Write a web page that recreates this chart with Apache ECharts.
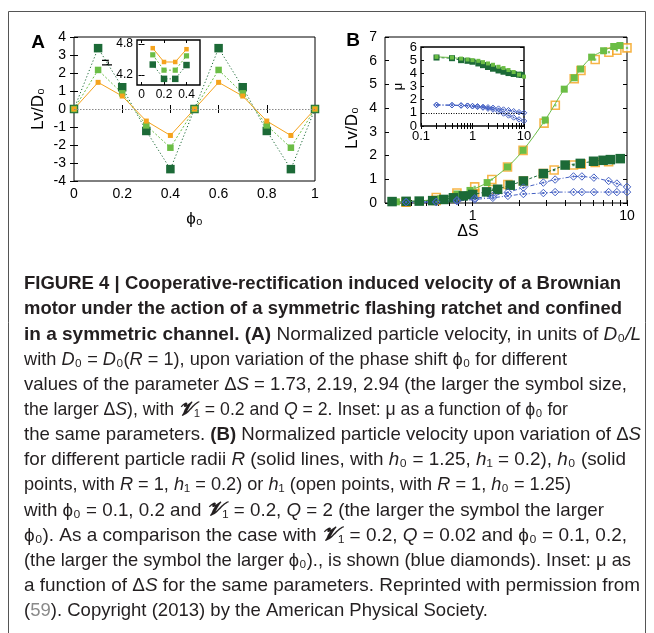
<!DOCTYPE html>
<html><head><meta charset="utf-8">
<script src="https://cdn.jsdelivr.net/npm/echarts@6/dist/echarts.min.js"></script>
<style>html,body{margin:0;padding:0;background:#fff}#c{width:654px;height:633px}</style>
</head><body><div id="c"></div>
<script>
// ---------------- Panel A data ----------------
const phiA = [0, 0.1, 0.2, 0.3, 0.4, 0.5, 0.6, 0.7, 0.8, 0.9, 1.0];
const vA_s173 = [0, 1.48, 0.72, -0.67, -1.47, 0, 1.48, 0.72, -0.67, -1.47, 0];
const vA_s219 = [0, 2.17, 0.87, -0.91, -2.15, 0, 2.17, 0.87, -0.91, -2.15, 0];
const vA_s294 = [0, 3.38, 1.21, -1.22, -3.34, 0, 3.38, 1.21, -1.22, -3.34, 0];
const xTicksA = [0, 0.2, 0.4, 0.6, 0.8, 1];
const yTicksA = [-4, -3, -2, -1, 0, 1, 2, 3, 4];
// inset A
const phiInA = [0.1, 0.2, 0.3, 0.4];
const muA_s173 = [4.72, 4.45, 4.45, 4.70];
const muA_s219 = [4.59, 4.29, 4.29, 4.57];
const muA_s294 = [4.40, 4.12, 4.12, 4.39];
const xTicksInA = [0, 0.2, 0.4];
const yTicksInA = [4.2, 4.8];

// ---------------- Panel B data ----------------
const dsLG = [0.32, 0.45, 0.62, 0.79, 0.96, 1.24, 1.68, 2.12, 2.95, 3.92, 4.55, 5.0, 5.9, 7.05, 8.2, 9.0];
const vLG  = [0.05, 0.09, 0.18, 0.38, 0.53, 0.86, 1.52, 2.22, 3.50, 4.80, 5.28, 5.65, 6.15, 6.42, 6.60, 6.64];
const dsDG = [0.30, 0.37, 0.45, 0.55, 0.65, 0.75, 0.87, 1.0, 1.23, 1.45, 1.75, 2.13, 2.87, 3.97, 4.98, 6.07, 7.0, 7.8, 9.04];
const vDG  = [0.06, 0.07, 0.08, 0.10, 0.15, 0.22, 0.30, 0.36, 0.47, 0.58, 0.75, 0.93, 1.24, 1.60, 1.67, 1.76, 1.80, 1.83, 1.87];
const dsOH = [0.37, 0.58, 0.79, 1.03, 1.33, 1.68, 2.12, 2.9, 3.43, 4.55, 5.03, 6.22, 7.63, 8.6, 10];
const vOH  = [0.04, 0.23, 0.42, 0.68, 0.99, 1.52, 2.22, 3.37, 4.12, 5.24, 5.59, 6.05, 6.36, 6.44, 6.54];
const dsOL = [0.37, 0.58, 0.79, 1.03, 1.35, 1.69, 2.13, 2.87, 3.37, 4.5, 5.05, 6.22, 7.6];
const vOL  = [0.03, 0.11, 0.28, 0.40, 0.57, 0.78, 0.93, 1.24, 1.39, 1.60, 1.64, 1.71, 1.74];
const dsBL = [0.37, 0.58, 0.79, 1.03, 1.35, 1.69, 2.13, 2.87, 3.42, 4.5, 5.1, 6.1, 7.6, 8.6, 10];
const vBU  = [0.04, 0.05, 0.12, 0.20, 0.30, 0.45, 0.65, 0.86, 0.99, 1.12, 1.12, 1.07, 0.93, 0.82, 0.68];
const vBD  = [0.03, 0.04, 0.08, 0.15, 0.22, 0.30, 0.38, 0.42, 0.46, 0.46, 0.46, 0.46, 0.46, 0.46, 0.46];
const xLabelsB = [1, 10];
const xMinorB = [0.3, 0.4, 0.5, 0.6, 0.7, 0.8, 0.9, 1, 2, 3, 4, 5, 6, 7, 8, 9, 10];
const yTicksB = [0, 1, 2, 3, 4, 5, 6, 7];
// inset B
const dsInLG = [0.2, 0.4, 0.6, 0.8, 1.0, 1.3, 1.6, 2.0, 2.5, 3.2, 4.0, 5.0, 6.3, 8.0, 10];
const muLG   = [5.25, 5.2, 5.12, 5.05, 5.0, 4.95, 4.85, 4.75, 4.65, 4.5, 4.4, 4.25, 4.1, 3.9, 3.75];
const dsInDG = [0.2, 0.4, 0.6, 0.8, 1.0, 1.3, 1.6, 2.0, 2.5, 3.2, 4.0, 5.0, 6.3, 8.0, 9.0];
const muDG   = [5.2, 5.15, 5.0, 4.95, 4.88, 4.75, 4.62, 4.48, 4.35, 4.22, 4.12, 4.02, 3.95, 3.9, 3.88];
const dsInBL = [0.2, 0.4, 0.6, 0.8, 1.0, 1.25, 1.6, 2.0, 2.5, 3.2, 4.0, 5.0, 6.3, 8.0, 10];
const muBU   = [1.6, 1.58, 1.56, 1.54, 1.52, 1.5, 1.45, 1.42, 1.38, 1.32, 1.25, 1.2, 1.12, 1.05, 1.0];
const muBD   = [1.6, 1.58, 1.56, 1.54, 1.5, 1.45, 1.4, 1.32, 1.25, 1.1, 0.95, 0.8, 0.65, 0.5, 0.38];
const xLabelsInB = [0.1, 1, 10];
const xMinorInB = [0.1,0.2,0.3,0.4,0.5,0.6,0.7,0.8,0.9,1,2,3,4,5,6,7,8,9,10];
const yTicksInB = [0, 1, 2, 3, 4, 5, 6];

// ---------------- Caption ----------------
const captionLines = [
  [['b','FIGURE 4 | Cooperative-rectification induced velocity of a Brownian']],
  [['b','motor under the action of a symmetric flashing ratchet and confined']],
  [['b','in a symmetric channel. (A) '],['r','Normalized particle velocity, in units of '],['i','D'],['r','₀'],['i','/L']],
  [['r','with '],['i','D'],['r','₀ = '],['i','D'],['r','₀('],['i','R'],['r',' = 1), upon variation of the phase shift ϕ₀ for different']],
  [['r','values of the parameter Δ'],['i','S'],['r',' = 1.73, 2.19, 2.94 (the larger the symbol size,']],
  [['r','the larger Δ'],['i','S'],['r','), with '],['v','𝓥'],['r','₁ = 0.2 and '],['i','Q'],['r',' = 2. Inset: μ as a function of ϕ₀ for']],
  [['r','the same parameters. '],['b','(B) '],['r','Normalized particle velocity upon variation of Δ'],['i','S']],
  [['r','for different particle radii '],['i','R'],['r',' (solid lines, with '],['i','h'],['r','₀ = 1.25, '],['i','h'],['r','₁ = 0.2), '],['i','h'],['r','₀ (solid']],
  [['r','points, with '],['i','R'],['r',' = 1, '],['i','h'],['r','₁ = 0.2) or '],['i','h'],['r','₁ (open points, with '],['i','R'],['r',' = 1, '],['i','h'],['r','₀ = 1.25)']],
  [['r','with ϕ₀ = 0.1, 0.2 and '],['v','𝓥'],['r','₁ = 0.2, '],['i','Q'],['r',' = 2 (the larger the symbol the larger']],
  [['r','ϕ₀). As a comparison the case with '],['v','𝓥'],['r','₁ = 0.2, '],['i','Q'],['r',' = 0.02 and ϕ₀ = 0.1, 0.2,']],
  [['r','(the larger the symbol the larger ϕ₀)., is shown (blue diamonds). Inset: μ as']],
  [['r','a function of Δ'],['i','S'],['r',' for the same parameters. Reprinted with permission from']],
  [['r','('],['g','59'],['r','). Copyright (2013) by the American Physical Society.']]
];
// right edge of each caption line (layout)
const captionRight = [621, 622, 641, 567, 627, 568, 641, 626, 571, 604, 627, 631, 640, 488];

// ---------------- Styles ----------------
const FONT = '"Liberation Sans", Arial, sans-serif';
const CAPFONT = '"Liberation Sans Narrow", "Liberation Sans", Arial, sans-serif';
const ORANGE = '#f5a31c', LGREEN = '#6bbd45', DGREEN = '#1c6a37', BLUE = '#4561c4';
const pts = (xs, ys) => xs.map((x, i) => [x, ys[i]]);

function axis(o) {
  return Object.assign({
    type: 'value',
    axisLine: { show: false },
    splitLine: { show: false },
    axisTick: { inside: true, length: 4, lineStyle: { color: '#000', width: 1 } },
    axisLabel: { color: '#000', fontFamily: FONT, fontSize: 14 }
  }, o);
}
function mirror(o) {
  const a = axis(o);
  a.axisLabel = { show: false };
  return a;
}

const grids = [
  { left: 74, top: 37, width: 241, height: 144 },
  { left: 137, top: 40, width: 63, height: 45 },
  { left: 385, top: 37, width: 242, height: 166 },
  { left: 421, top: 47, width: 103, height: 79 }
].map((g, i) => Object.assign({ show: true, borderColor: '#000', borderWidth: (i % 2) ? 1.4 : 1, backgroundColor: 'rgba(0,0,0,0)', containLabel: false }, g));

const xAxes = [
  axis({ gridIndex: 0, min: 0, max: 1, interval: 0.2, position: 'bottom',
    axisLabel: { color: '#000', fontFamily: FONT, fontSize: 14, margin: 6, customValues: xTicksA },
    axisTick: { inside: true, length: 4, customValues: xTicksA, lineStyle: { color: '#000' } },
    name: 'ϕ₀', nameLocation: 'middle', nameGap: 30, nameTextStyle: { fontFamily: FONT, fontSize: 17, color: '#000' } }),
  mirror({ gridIndex: 0, min: 0, max: 1, interval: 0.2, position: 'top' }),
  axis({ gridIndex: 1, min: -0.04, max: 0.52, position: 'bottom',
    axisLabel: { color: '#000', fontFamily: FONT, fontSize: 12, margin: 4, customValues: xTicksInA },
    axisTick: { inside: true, length: 3, customValues: xTicksInA, lineStyle: { color: '#000' } } }),
  mirror({ gridIndex: 1, min: -0.04, max: 0.52, position: 'top', axisTick: { inside: true, length: 3, customValues: xTicksInA, lineStyle: { color: '#000' } } }),
  axis({ gridIndex: 2, type: 'log', logBase: 10, min: 0.27, max: 10, position: 'bottom',
    axisLabel: { color: '#000', fontFamily: FONT, fontSize: 14, margin: 6, customValues: xLabelsB },
    axisTick: { inside: true, length: 3, customValues: xMinorB, lineStyle: { color: '#000' } } }),
  mirror({ gridIndex: 2, type: 'log', logBase: 10, min: 0.27, max: 10, position: 'top',
    axisTick: { inside: true, length: 3, customValues: xMinorB, lineStyle: { color: '#000' } } }),
  axis({ gridIndex: 3, type: 'log', logBase: 10, min: 0.1, max: 10, position: 'bottom',
    axisLabel: { color: '#000', fontFamily: FONT, fontSize: 13, margin: 4, customValues: xLabelsInB },
    axisTick: { inside: true, length: 3, customValues: xMinorInB, lineStyle: { color: '#000' } } }),
  mirror({ gridIndex: 3, type: 'log', logBase: 10, min: 0.1, max: 10, position: 'top',
    axisTick: { inside: true, length: 3, customValues: xMinorInB, lineStyle: { color: '#000' } } })
];
const yAxes = [
  axis({ gridIndex: 0, min: -4, max: 4, interval: 1, position: 'left',
    axisLabel: { color: '#000', fontFamily: FONT, fontSize: 14, margin: 8, customValues: yTicksA },
    axisTick: { inside: true, length: 4, customValues: yTicksA, lineStyle: { color: '#000' } },
    name: 'Lv/D₀', nameLocation: 'middle', nameGap: 27, nameTextStyle: { fontFamily: FONT, fontSize: 17, color: '#000' } }),
  mirror({ gridIndex: 0, min: -4, max: 4, interval: 1, position: 'right' }),
  axis({ gridIndex: 1, min: 4.0, max: 4.88, position: 'left',
    axisLabel: { color: '#000', fontFamily: FONT, fontSize: 12, margin: 4, customValues: yTicksInA, formatter: v => v.toFixed(1) },
    axisTick: { inside: true, length: 3, customValues: yTicksInA, lineStyle: { color: '#000' } },
    name: 'μ', nameLocation: 'middle', nameGap: 17, nameTextStyle: { fontFamily: FONT, fontSize: 13, color: '#000' } }),
  mirror({ gridIndex: 1, min: 4.0, max: 4.88, position: 'right', axisTick: { inside: true, length: 3, customValues: yTicksInA, lineStyle: { color: '#000' } } }),
  axis({ gridIndex: 2, min: 0, max: 7, interval: 1, position: 'left',
    axisLabel: { color: '#000', fontFamily: FONT, fontSize: 14, margin: 8, customValues: yTicksB },
    axisTick: { inside: true, length: 4, customValues: yTicksB, lineStyle: { color: '#000' } } }),
  mirror({ gridIndex: 2, min: 0, max: 7, interval: 1, position: 'right' }),
  axis({ gridIndex: 3, min: 0, max: 6, interval: 1, position: 'left',
    axisLabel: { color: '#000', fontFamily: FONT, fontSize: 13, margin: 4, customValues: yTicksInB },
    axisTick: { inside: true, length: 3, customValues: yTicksInB, lineStyle: { color: '#000' } },
    name: 'μ', nameLocation: 'middle', nameGap: 16, nameTextStyle: { fontFamily: FONT, fontSize: 13, color: '#000' } }),
  mirror({ gridIndex: 3, min: 0, max: 6, interval: 1, position: 'right' })
];

function line(xi, yi, data, color, size, dash, extra) {
  return Object.assign({
    type: 'line', xAxisIndex: xi, yAxisIndex: yi, data: data,
    symbol: 'rect', symbolSize: size, showSymbol: true, clip: false,
    itemStyle: { color: color },
    lineStyle: { color: color, width: 1, type: dash },
    emphasis: { disabled: true }, silent: true, animation: false
  }, extra || {});
}
const diamondPath = 'path://M0,-10L10,0L0,10L-10,0Z M-1.4,-1.4L1.4,-1.4L1.4,1.4L-1.4,1.4Z';
function blue(xi, yi, data, size) {
  return {
    type: 'line', xAxisIndex: xi, yAxisIndex: yi, data: data, clip: false,
    symbol: diamondPath, symbolSize: size,
    itemStyle: { color: 'rgba(0,0,0,0)', borderColor: BLUE, borderWidth: 1 },
    lineStyle: { color: BLUE, width: 1, type: [4, 2, 1, 2] },
    emphasis: { disabled: true }, silent: true, animation: false
  };
}
function openSq(data, fill, size) {
  return {
    type: 'scatter', xAxisIndex: 4, yAxisIndex: 4, data: data, clip: false,
    symbol: 'rect', symbolSize: size,
    itemStyle: { color: fill, borderColor: ORANGE, borderWidth: 1.6 },
    emphasis: { disabled: true }, silent: true, animation: false
  };
}
function dots(data, color) {
  return {
    type: 'scatter', xAxisIndex: 4, yAxisIndex: 4, data: data, clip: false,
    symbol: 'rect', symbolSize: 2.2, itemStyle: { color: color },
    emphasis: { disabled: true }, silent: true, animation: false
  };
}

const series = [
  // Panel A main
  line(0, 0, pts(phiA, vA_s294), DGREEN, 8.5, [1.2, 2.2], {
    markLine: { silent: true, symbol: 'none', label: { show: false },
      lineStyle: { color: '#888', width: 1, type: [1.5, 1.5] }, data: [{ yAxis: 0 }] } }),
  line(0, 0, pts(phiA, vA_s219), LGREEN, 6.5, [2, 2]),
  line(0, 0, pts(phiA, vA_s173), ORANGE, 5, 'solid'),
  // Panel A inset
  line(2, 2, pts(phiInA, muA_s294), DGREEN, 6.5, [1.2, 2.2]),
  line(2, 2, pts(phiInA, muA_s219), LGREEN, 5.2, [2, 2]),
  line(2, 2, pts(phiInA, muA_s173), ORANGE, 4.5, 'solid'),
  // Panel B main
  line(4, 4, pts(dsLG, vLG), LGREEN, 7, 'solid', { smooth: 0.3 }),
  line(4, 4, pts(dsDG, vDG), DGREEN, 9.5, [3, 2]),
  openSq(pts(dsOH, vOH), '#fff', 8),
  dots(pts(dsOH, vOH), LGREEN),
  openSq(pts(dsOL, vOL), 'rgba(0,0,0,0)', 8),
  dots(pts(dsOL, vOL), DGREEN),
  blue(4, 4, pts(dsBL, vBU), 7.5),
  blue(4, 4, pts(dsBL, vBD), 7.5),
  // Panel B inset
  line(6, 6, pts(dsInDG, muDG), DGREEN, 6, [3, 2], {
    markLine: { silent: true, symbol: 'none', label: { show: false },
      lineStyle: { color: '#000', width: 1, type: [1, 1.5] }, data: [{ yAxis: 1 }] } }),
  line(6, 6, pts(dsInLG, muLG), LGREEN, 4, 'solid'),
  blue(6, 6, pts(dsInBL, muBU), 5.5),
  blue(6, 6, pts(dsInBL, muBD), 5.5)
];

// ---------------- Caption layout (measured) ----------------
const capStyle = {
  r: { fontSize: 19, fontWeight: 'normal', fontStyle: 'normal', fontFamily: CAPFONT, fill: '#231f20' },
  b: { fontSize: 19, fontWeight: 'bold', fontStyle: 'normal', fontFamily: CAPFONT, fill: '#231f20' },
  i: { fontSize: 19, fontWeight: 'normal', fontStyle: 'italic', fontFamily: CAPFONT, fill: '#231f20' },
  v: { fontSize: 19, fontWeight: 'bold', fontStyle: 'italic', fontFamily: '"DejaVu Serif", "Liberation Serif", serif', fill: '#231f20' },
  g: { fontSize: 19, fontWeight: 'normal', fontStyle: 'normal', fontFamily: CAPFONT, fill: '#8a8a8a' }
};
const cv = document.createElement('canvas').getContext('2d');
function segW(seg) {
  const s = capStyle[seg[0]];
  cv.font = s.fontStyle + ' ' + s.fontWeight + ' ' + s.fontSize + 'px ' + s.fontFamily;
  return cv.measureText(seg[1]).width;
}
const lineW = (ln) => ln.reduce((a, s) => a + segW(s), 0);
const CAP_X = 24, CAP_Y0 = 284, CAP_DY = 25.15;
const graphics = [];
captionLines.forEach((ln, li) => {
  let x = CAP_X;
  const y = CAP_Y0 + li * CAP_DY;
  const sc = (captionRight[li] - CAP_X) / lineW(ln);
  ln.forEach(seg => {
    const st = capStyle[seg[0]];
    graphics.push({ type: 'text', x: x, y: y, scaleX: sc, silent: true,
      style: { text: seg[1], x: 0, y: 0, fontSize: st.fontSize, fontWeight: st.fontWeight, fontStyle: st.fontStyle,
        fontFamily: st.fontFamily, fill: st.fill, align: 'left', verticalAlign: 'middle' } });
    x += segW(seg) * sc;
  });
});
// panel letters and B axis names
graphics.push({ type: 'text', x: 38, y: 43, silent: true, style: { text: 'A', x: 0, y: 0, fontFamily: FONT, fontWeight: 'bold', fontSize: 19, fill: '#000', align: 'center', verticalAlign: 'middle' } });
graphics.push({ type: 'text', x: 353, y: 41, silent: true, style: { text: 'B', x: 0, y: 0, fontFamily: FONT, fontWeight: 'bold', fontSize: 19, fill: '#000', align: 'center', verticalAlign: 'middle' } });
graphics.push({ type: 'text', x: 468, y: 232, silent: true, style: { text: 'ΔS', x: 0, y: 0, fontFamily: FONT, fontSize: 16, fill: '#000', align: 'center', verticalAlign: 'middle' } });
graphics.push({ type: 'text', x: 352, y: 128, rotation: Math.PI / 2, silent: true, style: { text: 'Lv/D₀', x: 0, y: 0, fontFamily: FONT, fontSize: 17, fill: '#000', align: 'center', verticalAlign: 'middle' } });
// outer frame
graphics.push({ type: 'polyline', silent: true, shape: { points: [[8.5, 633], [8.5, 11.5], [645.5, 11.5], [645.5, 633]] }, style: { stroke: '#555', lineWidth: 1, fill: null } });

const chart = echarts.init(document.getElementById('c'), null, { renderer: 'canvas' });
chart.setOption({
  animation: false,
  backgroundColor: '#fff',
  grid: grids,
  xAxis: xAxes,
  yAxis: yAxes,
  series: series,
  graphic: { elements: graphics }
});
</script>
</body></html>
